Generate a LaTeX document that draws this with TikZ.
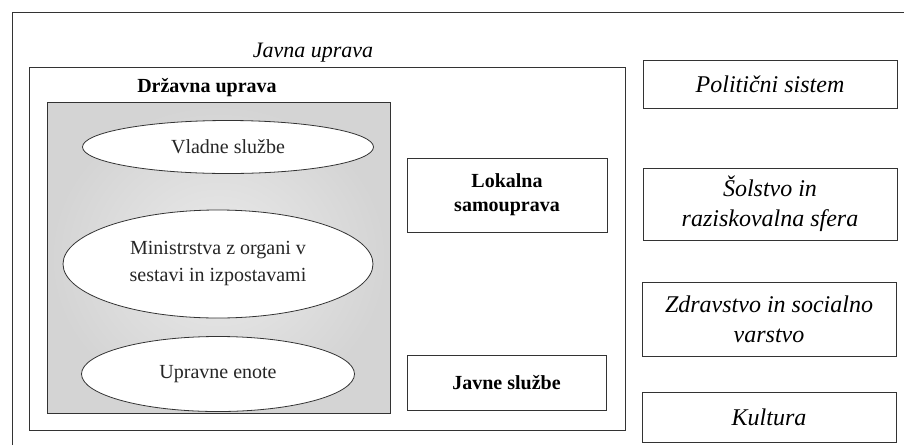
\documentclass[tikz,border=0pt]{standalone}
\usepackage{fontspec}
\setmainfont{Liberation Serif}
\usetikzlibrary{shapes.geometric}
\begin{document}
\begin{tikzpicture}[x=1pt,y=-1pt,
  frame/.style={draw=black!80, line width=0.8pt},
  plainbox/.style={frame, rectangle, inner sep=0pt},
  boxb/.style={frame, rectangle, inner sep=0pt, align=center, font=\fontsize{20}{24}\selectfont\bfseries},
  boxi/.style={frame, rectangle, inner sep=0pt, align=center, font=\fontsize{24}{30}\selectfont\itshape},
  ell/.style={frame, ellipse, fill=white, inner sep=0pt, align=center, text=black!85, font=\fontsize{20}{27}\selectfont}]
\useasboundingbox (0,0) rectangle (904,445);
\fill[white] (0,0) rectangle (904,445);
% outer frame (cut off at right and bottom)
\coordinate (ofa) at (12,445);
\coordinate (ofb) at (12,12);
\coordinate (ofc) at (904,12);
\draw[frame] (ofa) -- (ofb) -- (ofc);
% Javna uprava frame
\node[plainbox, minimum width=596pt, minimum height=363pt] (ju) at (327,248.5) {};
\node[font=\fontsize{22}{26}\selectfont\itshape] (jut) at (313,53) {Javna uprava};
\node[font=\fontsize{20}{24}\selectfont\bfseries] (dut) at (207,88) {Državna uprava};
% Grey box
\node[plainbox, inner color=gray!16, outer color=gray!34, minimum width=343pt, minimum height=311pt] (du) at (218.5,257.5) {};
\node[ell, minimum width=291pt, minimum height=53pt] (vs) at (228,147) {Vladne službe};
\node[ell, minimum width=310pt, minimum height=108pt] (mi) at (218,264) {Ministrstva z organi v\\sestavi in izpostavami};
\node[ell, minimum width=273pt, minimum height=75pt] (ue) at (218,374) {Upravne enote};
% Middle boxes
\node[boxb, minimum width=200pt, minimum height=74pt] (ls) at (507,195) {Lokalna\\samouprava};
\node[boxb, minimum width=199pt, minimum height=55pt] (js) at (506.5,382.5) {Javne službe};
% Right boxes
\node[boxi, minimum width=254pt, minimum height=48pt] (ps) at (770,84) {Politični sistem};
\node[boxi, minimum width=254pt, minimum height=72pt] (so) at (770,204) {Šolstvo in\\raziskovalna sfera};
\node[boxi, minimum width=254pt, minimum height=74pt] (zd) at (769,319) {Zdravstvo in socialno\\varstvo};
\node[boxi, minimum width=254pt, minimum height=50pt] (ku) at (769,417) {Kultura};
\end{tikzpicture}
\end{document}
